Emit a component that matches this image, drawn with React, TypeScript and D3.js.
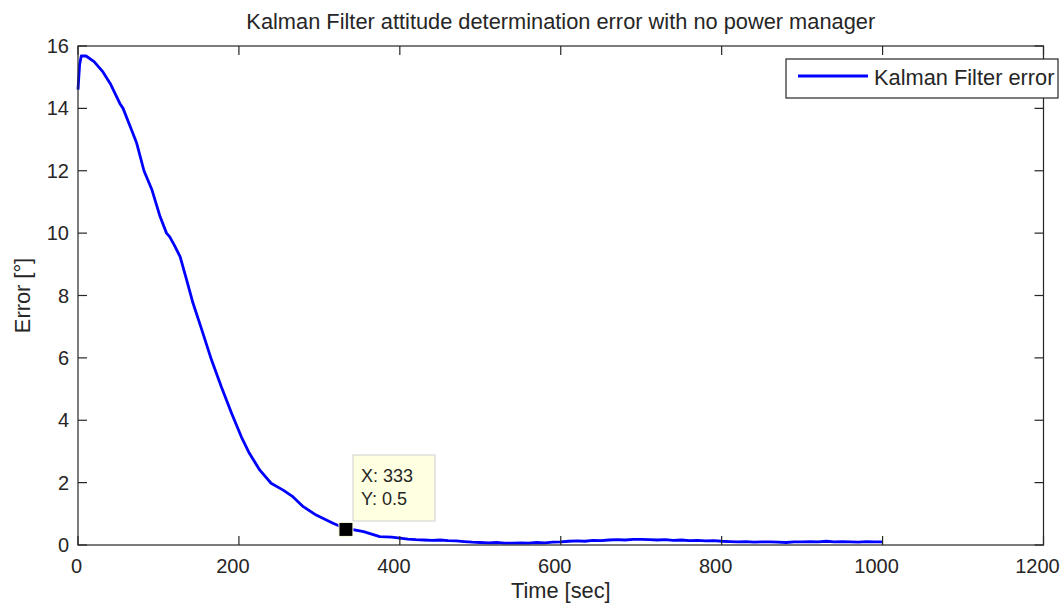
import React from "react";
import * as d3 from "d3";

const timeValues = [0, 2, 4, 10, 20, 31, 40, 52, 56, 65, 73, 82, 92, 102, 110, 114, 120, 127, 135, 143, 154, 166, 178, 191, 203, 213, 226, 240, 255, 267, 280, 296, 317, 332, 340, 355, 365, 375, 390, 400, 410, 420, 430, 440, 450, 460, 470, 480, 490, 500, 510, 520, 530, 540, 550, 560, 570, 580, 590, 600, 610, 620, 630, 640, 650, 660, 670, 680, 690, 700, 710, 720, 730, 740, 750, 760, 770, 780, 790, 800, 810, 820, 830, 840, 850, 860, 870, 880, 890, 900, 910, 920, 930, 940, 950, 960, 970, 980, 990, 1000];
const errorValues = [14.6, 15.4, 15.68, 15.68, 15.5, 15.17, 14.8, 14.16, 14.0, 13.41, 12.88, 12.0, 11.38, 10.53, 10.0, 9.88, 9.6, 9.24, 8.5, 7.75, 6.89, 5.93, 5.08, 4.22, 3.47, 2.94, 2.4, 1.98, 1.76, 1.55, 1.23, 0.96, 0.7, 0.53, 0.5, 0.43, 0.35, 0.27, 0.25, 0.22, 0.19, 0.17, 0.16, 0.15, 0.16, 0.14, 0.13, 0.11, 0.09, 0.08, 0.07, 0.08, 0.06, 0.06, 0.07, 0.06, 0.08, 0.07, 0.09, 0.1, 0.12, 0.13, 0.12, 0.15, 0.14, 0.16, 0.17, 0.16, 0.18, 0.18, 0.17, 0.16, 0.17, 0.15, 0.16, 0.14, 0.15, 0.13, 0.14, 0.12, 0.11, 0.1, 0.11, 0.09, 0.1, 0.1, 0.09, 0.08, 0.1, 0.1, 0.11, 0.1, 0.12, 0.1, 0.11, 0.1, 0.09, 0.11, 0.1, 0.1];
const xTicks = [0, 200, 400, 600, 800, 1000, 1200];
const yTicks = [0, 2, 4, 6, 8, 10, 12, 14, 16];
const tipPoint = { x: 333, y: 0.5 };

const W = 1063, H = 604;
const M = { left: 78, right: 1043.5, top: 46, bottom: 545 };
const FONT = "'Liberation Sans', Arial, sans-serif";
const AX = "#262626";

export default function App() {
  const x = d3.scaleLinear().domain([0, 1200]).range([M.left, M.right]);
  const y = d3.scaleLinear().domain([0, 16]).range([M.bottom, M.top]);
  const pts = timeValues.map((t, i) => [t, errorValues[i]] as [number, number]);
  const line = d3.line<[number, number]>().x(d => x(d[0])).y(d => y(d[1]));
  const tl = 9;
  const tx = x(tipPoint.x), ty = y(tipPoint.y);
  return (
    <svg width={W} height={H} style={{ position: "absolute", left: 0, top: 0, background: "#fff" }} fontFamily={FONT}>
      <rect x={0} y={0} width={W} height={H} fill="#fff" />
      <text x={(M.left + M.right) / 2} y={29} textAnchor="middle" fontSize={21.8} fill={AX}>Kalman Filter attitude determination error with no power manager</text>
      <path d={line(pts) || ""} fill="none" stroke="#0000ff" strokeWidth={2.8} strokeLinejoin="round" />
      <rect x={M.left} y={M.top} width={M.right - M.left} height={M.bottom - M.top} fill="none" stroke={AX} strokeWidth={1.2} />
      {xTicks.map(t => (
        <g key={"x" + t}>
          <line x1={x(t)} x2={x(t)} y1={M.bottom} y2={M.bottom - tl} stroke={AX} strokeWidth={1.2} />
          <line x1={x(t)} x2={x(t)} y1={M.top} y2={M.top + tl} stroke={AX} strokeWidth={1.2} />
          <text x={x(t) - (t === 0 ? 1.5 : 6)} y={M.bottom + 28} textAnchor="middle" fontSize={20} fill={AX}>{t}</text>
        </g>
      ))}
      {yTicks.map(t => (
        <g key={"y" + t}>
          <line x1={M.left} x2={M.left + tl} y1={y(t)} y2={y(t)} stroke={AX} strokeWidth={1.2} />
          <line x1={M.right} x2={M.right - tl} y1={y(t)} y2={y(t)} stroke={AX} strokeWidth={1.2} />
          <text x={M.left - 9} y={y(t) + 7} textAnchor="end" fontSize={20} fill={AX}>{t}</text>
        </g>
      ))}
      <text x={(M.left + M.right) / 2} y={598} textAnchor="middle" fontSize={21.8} fill={AX}>Time [sec]</text>
      <text transform={`translate(30,${(M.top + M.bottom) / 2}) rotate(-90)`} textAnchor="middle" fontSize={21.8} fill={AX}>Error [°]</text>
      <g>
        <rect x={786} y={59} width={272} height={39} fill="#fff" stroke={AX} strokeWidth={1.2} />
        <line x1={798} x2={868} y1={76} y2={76} stroke="#0000ff" strokeWidth={2.8} />
        <text x={874} y={85} fontSize={21.8} fill={AX}>Kalman Filter error</text>
      </g>
      <g>
        <rect x={353} y={455} width={82} height={66} fill="#ffffe1" stroke="#cfcfcf" strokeWidth={1} />
        <text x={361} y={482} fontSize={18} fill={AX}>X: {tipPoint.x}</text>
        <text x={361} y={505} fontSize={18} fill={AX}>Y: {tipPoint.y}</text>
        <rect x={tx - 7} y={ty - 7} width={14} height={14} fill="#000" stroke="#ffffe1" strokeWidth={1} />
      </g>
    </svg>
  );
}
